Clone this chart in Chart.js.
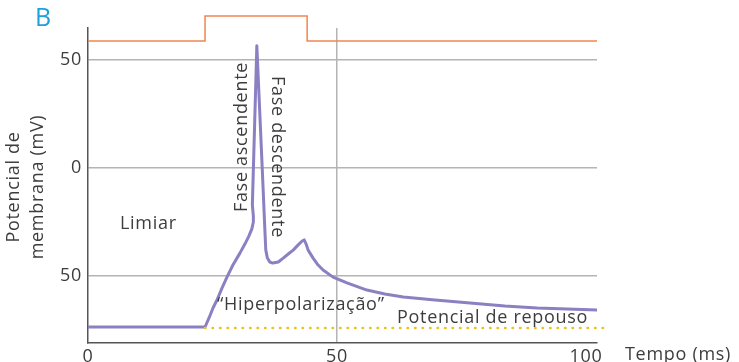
<!DOCTYPE html>
<html>
<head>
<meta charset="utf-8">
<script src="https://cdn.jsdelivr.net/npm/chart.js@4"></script>
<style>
    html, body { margin: 0; padding: 0; background: #fff; }
    #wrap { width: 739px; height: 362px; position: relative; }
</style>
</head>
<body>
<div id="wrap"><canvas id="chart"></canvas></div>
<script>
    // membrane potential trace (ms, mV)
    const traceTime = [0, 23.5, 24.3, 25.1, 25.9, 26.9, 27.9, 29.1, 30.5, 31.5, 32.3, 32.9, 33.2, 33.2, 33.0, 33.9,
        35.0, 35.5, 35.7, 36.0, 36.5, 37.1, 38.2, 39.2, 40.2, 41.2, 42.2, 43.0, 43.4, 43.8, 44.2, 45.2, 46.2, 47.2,
        49.2, 52.0, 56.0, 59.6, 63.3, 69.7, 76.7, 83.7, 90.2, 96.2, 102.2];
    const traceMv = [-73.6, -73.6, -69.4, -64.8, -61.1, -55.6, -50.5, -44.9, -39.4, -35.2, -31.5, -28.2, -25.0, -22.2, -17.1, 56.6,
        -1.0, -28.0, -38.0, -41.5, -43.5, -44.0, -43.5, -41.7, -39.8, -38.0, -35.6, -33.8, -33.3, -35.2, -38.0, -41.7, -44.9, -47.2,
        -50.5, -53.2, -56.5, -58.3, -59.7, -61.1, -62.5, -63.9, -64.8, -65.3, -65.7];

    // stimulus step (drawn above the plot)
    const stimTime = [0, 23.5, 23.5, 44.0, 44.0, 102.2];
    const stimLevel = [58.8, 58.8, 70.4, 70.4, 58.8, 58.8];

    // resting potential reference
    const restTime = [23.5, 104.8];
    const restMv = [-74, -74];

    const xTickValues = [0, 50, 100];
    const xTickLabels = ['0', '50', '100'];
    const yTickValues = [-50, 0, 50];
    const yTickLabels = ['50', '0', '50'];

    const FONT = '"Open Sans", sans-serif';
    const TEXT = '#3d3d3d';
    const LETTER_SPACING = '0.7px';

    const toPoints = (xs, ys) => xs.map((x, i) => ({ x: x, y: ys[i] }));

    // wider letters, closer to the original typeface
    const spacing = {
        id: 'spacing',
        beforeDraw(chart) {
            chart.ctx.letterSpacing = LETTER_SPACING;
        }
    };

    const annotations = {
        id: 'annotations',
        afterDraw(chart) {
            const ctx = chart.ctx;
            ctx.save();
            ctx.letterSpacing = LETTER_SPACING;
            ctx.fillStyle = TEXT;
            ctx.textBaseline = 'middle';

            ctx.font = '18px ' + FONT;
            ctx.textAlign = 'left';
            ctx.fillText('Limiar', 120, 224);
            ctx.fillText('\u201cHiperpolariza\u00e7\u00e3o\u201d', 217, 305);
            ctx.fillText('Potencial de repouso', 397, 318);
            ctx.fillText('Tempo (ms)', 625, 355);

            ctx.save();
            ctx.translate(242, 137);
            ctx.rotate(-Math.PI / 2);
            ctx.textAlign = 'center';
            ctx.fillText('Fase ascendente', 0, 0);
            ctx.restore();

            ctx.save();
            ctx.translate(277, 157);
            ctx.rotate(Math.PI / 2);
            ctx.textAlign = 'center';
            ctx.fillText('Fase descendente', 0, 0);
            ctx.restore();

            ctx.save();
            ctx.translate(14, 187);
            ctx.rotate(-Math.PI / 2);
            ctx.textAlign = 'center';
            ctx.fillText('Potencial de', 0, 0);
            ctx.fillText('membrana (mV)', 0, 24);
            ctx.restore();

            ctx.letterSpacing = '0px';
            ctx.font = '25px ' + FONT;
            ctx.fillStyle = '#1f9fdc';
            ctx.textAlign = 'left';
            ctx.fillText('B', 35, 19);
            ctx.restore();
        }
    };

    new Chart(document.getElementById('chart'), {
        type: 'line',
        data: {
            datasets: [
                {
                    label: 'Estímulo',
                    data: toPoints(stimTime, stimLevel),
                    borderColor: '#f0864f',
                    borderWidth: 1.5,
                    pointRadius: 0,
                    tension: 0,
                    clip: false
                },
                {
                    label: 'Potencial de repouso',
                    data: toPoints(restTime, restMv),
                    borderColor: '#e8c41c',
                    borderWidth: 2.5,
                    borderDash: [0.5, 7],
                    borderCapStyle: 'round',
                    pointRadius: 0,
                    clip: false
                },
                {
                    label: 'Potencial de membrana',
                    data: toPoints(traceTime, traceMv),
                    borderColor: '#8a80c2',
                    borderWidth: 3,
                    borderJoinStyle: 'round',
                    borderCapStyle: 'round',
                    pointRadius: 0,
                    tension: 0
                }
            ]
        },
        options: {
            responsive: true,
            maintainAspectRatio: false,
            animation: false,
            layout: { padding: { top: 28, right: 142, left: 0, bottom: 0 } },
            plugins: {
                legend: { display: false },
                tooltip: { enabled: false }
            },
            scales: {
                x: {
                    type: 'linear',
                    min: 0,
                    max: 102.2,
                    afterFit: (scale) => { scale.height = 19; },
                    afterBuildTicks: (scale) => { scale.ticks = xTickValues.map((v) => ({ value: v })); },
                    border: { color: '#555', width: 1.5 },
                    grid: {
                        drawTicks: false,
                        lineWidth: 1.5,
                        color: (c) => (c.tick && c.tick.value === 50 ? '#b4b4b4' : 'rgba(0,0,0,0)')
                    },
                    ticks: {
                        padding: 3,
                        autoSkip: false,
                        maxRotation: 0,
                        color: TEXT,
                        font: { family: FONT, size: 18 },
                        callback: (value) => xTickLabels[xTickValues.indexOf(value)]
                    }
                },
                y: {
                    min: -81,
                    max: 64.8,
                    afterFit: (scale) => { scale.width = 88; },
                    afterBuildTicks: (scale) => { scale.ticks = yTickValues.map((v) => ({ value: v })); },
                    border: { color: '#555', width: 1.5 },
                    grid: {
                        drawTicks: false,
                        lineWidth: 1.5,
                        color: '#b4b4b4'
                    },
                    ticks: {
                        padding: 6,
                        color: TEXT,
                        font: { family: FONT, size: 18 },
                        callback: (value) => yTickLabels[yTickValues.indexOf(value)]
                    }
                }
            }
        },
        plugins: [spacing, annotations]
    });
</script>
</body>
</html>
